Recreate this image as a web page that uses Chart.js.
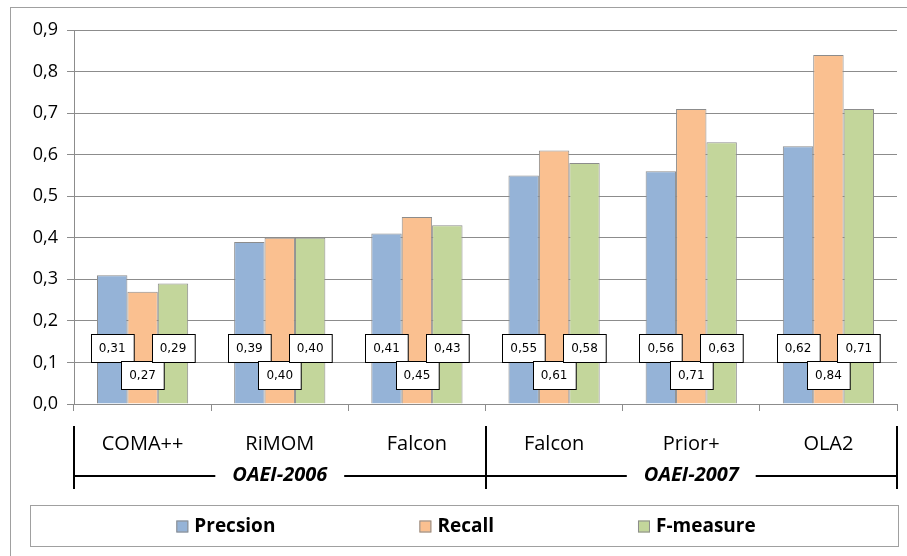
<!DOCTYPE html>
<html>
<head>
<meta charset="utf-8">
<script src="https://cdn.jsdelivr.net/npm/chart.js@4.4.1/dist/chart.umd.min.js"></script>
<style>
  html, body { margin: 0; padding: 0; background: #fff; }
  #wrap { width: 907px; height: 556px; position: relative; }
</style>
</head>
<body>
<div id="wrap"><canvas id="chart" width="907" height="556"></canvas></div>
<script>
// Data
const systems = ['COMA++', 'RiMOM', 'Falcon', 'Falcon', 'Prior+', 'OLA2'];
const campaigns = ['OAEI-2006', 'OAEI-2007'];
const campaignSize = [3, 3];
const precision = [0.31, 0.39, 0.41, 0.55, 0.56, 0.62];
const recall = [0.27, 0.40, 0.45, 0.61, 0.71, 0.84];
const fMeasure = [0.29, 0.40, 0.43, 0.58, 0.63, 0.71];
const yTicks = [0, 0.1, 0.2, 0.3, 0.4, 0.5, 0.6, 0.7, 0.8, 0.9];

const FONT = '"Open Sans", "Noto Sans", sans-serif';
const comma = (v, d) => v.toFixed(d).replace('.', ',');

// Outer frame of the chart
const framePlugin = {
    id: 'frame',
    beforeDraw(chart) {
        const ctx = chart.ctx;
        ctx.save();
        ctx.fillStyle = '#fff';
        ctx.fillRect(0, 0, chart.width, chart.height);
        ctx.strokeStyle = '#a0a0a0';
        ctx.lineWidth = 1;
        ctx.strokeRect(10.5, 7.5, chart.width, chart.height);
        ctx.restore();
    }
};

// Boxed value labels near the bottom of each bar
const valueBoxPlugin = {
    id: 'valueBoxes',
    afterDatasetsDraw(chart) {
        const ctx = chart.ctx;
        const yScale = chart.scales.y;
        const levels = [0.134, 0.07, 0.134];
        ctx.save();
        ctx.font = '12px "DejaVu Sans", sans-serif';
        ctx.textAlign = 'center';
        ctx.textBaseline = 'middle';
        chart.data.datasets.forEach((ds, i) => {
            const meta = chart.getDatasetMeta(i);
            const cy = yScale.getPixelForValue(levels[i]);
            meta.data.forEach((bar, j) => {
                const txt = comma(ds.data[j], 2);
                const w = ctx.measureText(txt).width + 16;
                const h = 28;
                const x0 = Math.round(bar.x - w / 2) + 0.5;
                const y0 = Math.round(cy - h / 2) + 0.5;
                ctx.fillStyle = '#fff';
                ctx.fillRect(x0, y0, w, h);
                ctx.strokeStyle = '#000';
                ctx.lineWidth = 1;
                ctx.strokeRect(x0, y0, w, h);
                ctx.fillStyle = '#000';
                ctx.fillText(txt, bar.x, cy + 1);
            });
        });
        ctx.restore();
    }
};

// Group brackets (OAEI-2006 / OAEI-2007) under the category labels
const groupPlugin = {
    id: 'groups',
    afterDraw(chart) {
        const ctx = chart.ctx;
        const xs = chart.scales.x;
        const area = chart.chartArea;
        const edge = k => {
            if (k <= 0) return area.left;
            if (k >= systems.length) return area.right;
            return (xs.getPixelForTick(k - 1) + xs.getPixelForTick(k)) / 2;
        };
        const lineY = 476;
        ctx.save();
        ctx.strokeStyle = '#000';
        ctx.fillStyle = '#000';
        ctx.lineWidth = 2;
        ctx.font = 'italic bold 20px ' + FONT;
        ctx.textAlign = 'center';
        ctx.textBaseline = 'middle';
        let k = 0;
        const bounds = [edge(0)];
        campaigns.forEach((name, g) => {
            const a = edge(k);
            k += campaignSize[g];
            const b = edge(k);
            bounds.push(b);
            const mid = (a + b) / 2;
            const half = ctx.measureText(name).width / 2 + 17;
            ctx.beginPath();
            ctx.moveTo(a, lineY);
            ctx.lineTo(mid - half, lineY);
            ctx.moveTo(mid + half, lineY);
            ctx.lineTo(b, lineY);
            ctx.stroke();
            ctx.fillText(name, mid, lineY - 1);
        });
        bounds.forEach(x => {
            ctx.beginPath();
            ctx.moveTo(Math.round(x), 426);
            ctx.lineTo(Math.round(x), 489);
            ctx.stroke();
        });
        ctx.restore();
    }
};

// Legend in a framed box at the bottom
const legendBoxPlugin = {
    id: 'legendBox',
    afterDraw(chart) {
        const ctx = chart.ctx;
        const box = { l: 30, t: 505, r: 898, b: 546 };
        ctx.save();
        ctx.strokeStyle = '#a0a0a0';
        ctx.lineWidth = 1;
        ctx.strokeRect(box.l + 0.5, box.t + 0.5, box.r - box.l, box.b - box.t);
        ctx.font = 'bold 19px ' + FONT;
        ctx.textBaseline = 'middle';
        const sw = 12, gapText = 6, gapItem = 144;
        const items = chart.data.datasets.map(ds => ({
            ds, w: sw + gapText + ctx.measureText(ds.label).width
        }));
        const total = items.reduce((s, it) => s + it.w, 0) + gapItem * (items.length - 1);
        let x = (box.l + box.r) / 2 - total / 2 + 2;
        const cy = (box.t + box.b) / 2 + 1;
        items.forEach(it => {
            ctx.fillStyle = it.ds.backgroundColor;
            ctx.fillRect(x, cy - sw / 2, sw, sw);
            ctx.strokeStyle = '#8c8c8c';
            ctx.strokeRect(x + 0.5, cy - sw / 2 + 0.5, sw - 1, sw - 1);
            ctx.fillStyle = '#000';
            ctx.fillText(it.ds.label, x + sw + gapText, cy);
            x += it.w + gapItem;
        });
        ctx.restore();
    }
};

const ctx = document.getElementById('chart').getContext('2d');
new Chart(ctx, {
    type: 'bar',
    data: {
        labels: systems,
        datasets: [
            { label: 'Precsion', data: precision, backgroundColor: '#95b3d7' },
            { label: 'Recall', data: recall, backgroundColor: '#fac090' },
            { label: 'F-measure', data: fMeasure, backgroundColor: '#c3d69b' }
        ].map(ds => Object.assign(ds, {
            borderColor: '#8c8c8c',
            borderWidth: 1,
            borderSkipped: 'bottom',
            barPercentage: 1,
            categoryPercentage: 0.665
        }))
    },
    options: {
        responsive: false,
        animation: false,
        devicePixelRatio: 1,
        layout: { padding: { left: 0, top: 30, right: 10, bottom: 0 } },
        plugins: {
            legend: { display: false },
            tooltip: { enabled: false }
        },
        scales: {
            x: {
                afterFit: s => { s.height = 152; },
                grid: {
                    offset: true,
                    drawOnChartArea: false,
                    drawTicks: true,
                    tickLength: 7,
                    color: '#8c8c8c'
                },
                border: { color: '#8c8c8c' },
                ticks: {
                    font: { family: FONT, size: 20 },
                    color: '#000',
                    padding: 21,
                    maxRotation: 0
                }
            },
            y: {
                min: 0,
                max: 0.9,
                afterFit: s => { s.width = 74; },
                afterBuildTicks: s => { s.ticks = yTicks.map(v => ({ value: v })); },
                grid: {
                    color: '#8c8c8c',
                    tickLength: 7,
                    drawTicks: true
                },
                border: { color: '#8c8c8c' },
                ticks: {
                    font: { family: FONT, size: 18 },
                    color: '#000',
                    padding: 9,
                    callback: v => comma(v, 1)
                }
            }
        }
    },
    plugins: [framePlugin, valueBoxPlugin, groupPlugin, legendBoxPlugin]
});
</script>
</body>
</html>
